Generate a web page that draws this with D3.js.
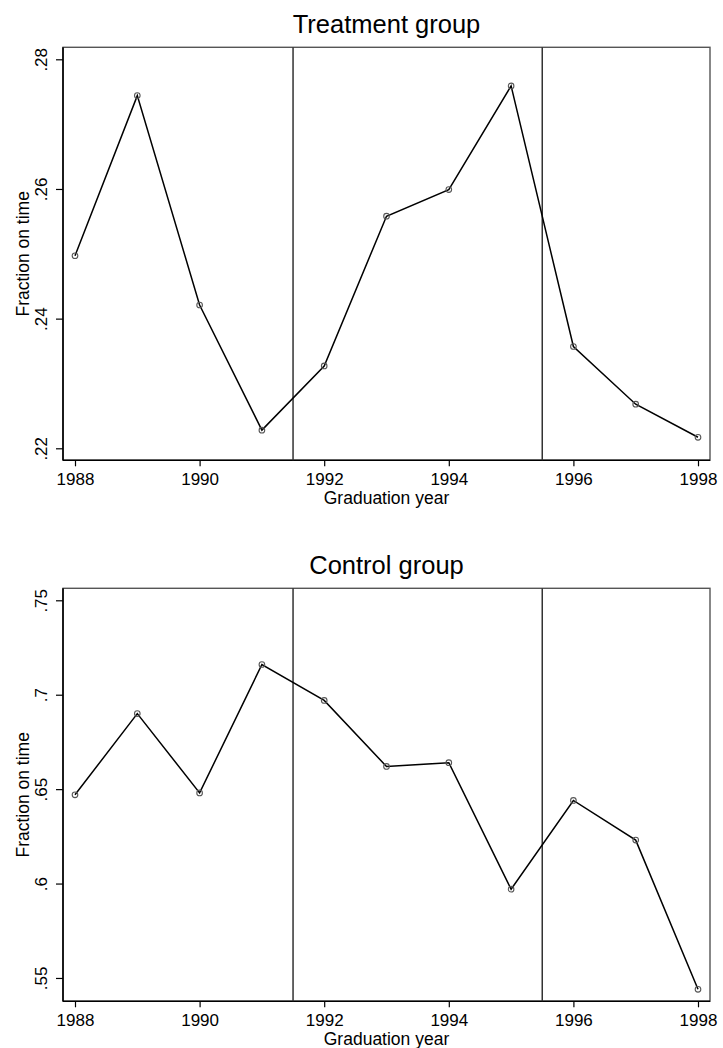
<!DOCTYPE html>
<html>
<head>
<meta charset="utf-8">
<script src="https://cdn.jsdelivr.net/npm/d3@7"></script>
<style>
  body { margin: 0; background: #fff; }
  svg { display: block; font-family: "Liberation Sans", Arial, Helvetica, sans-serif; }
</style>
</head>
<body>
<svg id="chart" width="723" height="1048"></svg>
<script>
const years = [1988, 1989, 1990, 1991, 1992, 1993, 1994, 1995, 1996, 1997, 1998];
const treatment = [0.2497, 0.2744, 0.2421, 0.2228, 0.2327, 0.2558, 0.2599, 0.2759, 0.2357, 0.2268, 0.2217];
const control = [0.647, 0.690, 0.648, 0.716, 0.697, 0.662, 0.664, 0.597, 0.644, 0.623, 0.544];
const xTicks = [1988, 1990, 1992, 1994, 1996, 1998];
const treatTicks = [0.22, 0.24, 0.26, 0.28];
const controlTicks = [0.55, 0.6, 0.65, 0.7, 0.75];
const cutYears = [1991.5, 1995.5];

const svg = d3.select("#chart");

const boxLeft = 63, boxRight = 710;
const boxH = 413, inset = 12;

const x = d3.scaleLinear()
  .domain([1988, 1998])
  .range([boxLeft + inset, boxRight - inset]);

// strip the leading zero like ".28", ".7"
const fmt = d => d3.format("")(+d.toFixed(2)).replace(/^0/, "");

function drawPanel(top, title, values, yTicks) {
  const g = svg.append("g").attr("transform", `translate(0,${top})`);

  // range covers both the data and the ticks
  const y = d3.scaleLinear()
    .domain(d3.extent(values.concat(yTicks)))
    .range([boxH - inset, inset]);

  // frame
  g.append("rect")
    .attr("x", boxLeft).attr("y", 0)
    .attr("width", boxRight - boxLeft).attr("height", boxH)
    .attr("fill", "none")
    .attr("stroke", "#555")
    .attr("stroke-width", 1.4);

  // x axis
  const xAxis = d3.axisBottom(x).tickValues(xTicks).tickFormat(d3.format("d"))
    .tickSize(6).tickSizeOuter(0);
  const gx = g.append("g")
    .attr("transform", `translate(0,${boxH})`)
    .call(xAxis);
  gx.select(".domain").attr("stroke", "#000").attr("stroke-width", 1.6)
    .attr("d", `M${boxLeft},0H${boxRight}`);
  gx.selectAll(".tick line").attr("stroke-width", 1.2);
  gx.selectAll(".tick text")
    .attr("y", 24.5).attr("dy", 0)
    .style("font-size", "17px").style("font-family", "inherit");

  // y axis
  const yAxis = d3.axisLeft(y).tickValues(yTicks).tickFormat(fmt)
    .tickSize(7).tickSizeOuter(0);
  const gy = g.append("g")
    .attr("transform", `translate(${boxLeft},0)`)
    .call(yAxis);
  gy.select(".domain").attr("stroke", "#000").attr("stroke-width", 1.6)
    .attr("d", `M0,0V${boxH}`);
  gy.selectAll(".tick line").attr("stroke-width", 1.2);
  gy.selectAll(".tick text")
    .attr("x", 0).attr("y", 0).attr("dy", 0)
    .attr("text-anchor", "middle")
    .attr("transform", "translate(-16,0) rotate(-90)")
    .style("font-size", "17px").style("font-family", "inherit");

  // cut lines
  g.selectAll(".cut")
    .data(cutYears)
    .enter().append("line")
    .attr("x1", d => x(d)).attr("x2", d => x(d))
    .attr("y1", 0).attr("y2", boxH)
    .attr("stroke", "#333")
    .attr("stroke-width", 1.5);

  const pts = years.map((yr, i) => [yr, values[i]]);

  g.append("path")
    .datum(pts)
    .attr("fill", "none")
    .attr("stroke", "#000")
    .attr("stroke-width", 1.5)
    .attr("d", d3.line().x(d => x(d[0])).y(d => y(d[1])));

  g.selectAll(".pt")
    .data(pts)
    .enter().append("circle")
    .attr("cx", d => x(d[0])).attr("cy", d => y(d[1]))
    .attr("r", 2.8)
    .attr("fill", "none")
    .attr("stroke", "#555")
    .attr("stroke-width", 1.1);

  // titles
  g.append("text")
    .attr("x", (boxLeft + boxRight) / 2).attr("y", -14)
    .attr("text-anchor", "middle")
    .style("font-size", "25.5px")
    .text(title);

  g.append("text")
    .attr("x", (boxLeft + boxRight) / 2).attr("y", boxH + 44)
    .attr("text-anchor", "middle")
    .style("font-size", "17.5px")
    .text("Graduation year");

  g.append("text")
    .attr("transform", `translate(28.5,${boxH / 2}) rotate(-90)`)
    .attr("text-anchor", "middle")
    .style("font-size", "17.5px")
    .text("Fraction on time");
}

drawPanel(47.3, "Treatment group", treatment, treatTicks);
drawPanel(588.3, "Control group", control, controlTicks);
</script>
</body>
</html>
